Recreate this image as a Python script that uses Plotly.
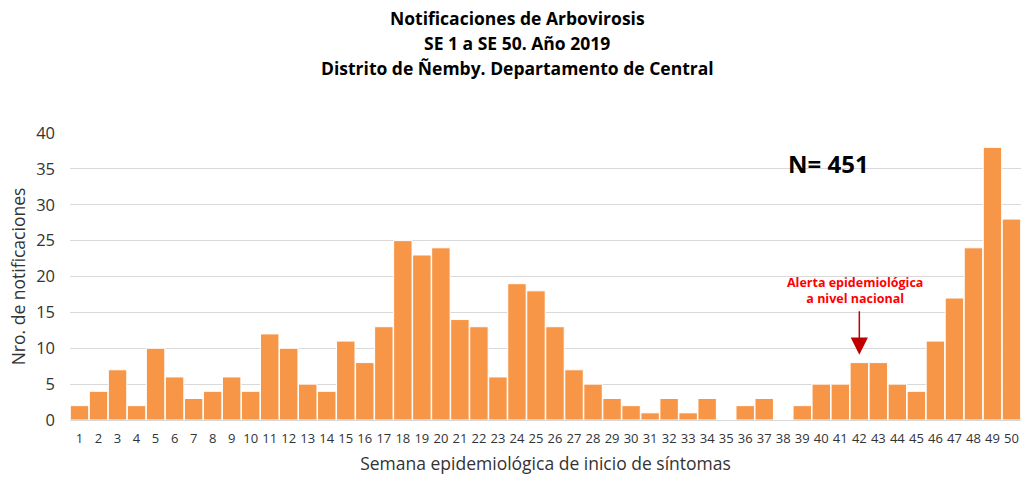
import plotly.graph_objects as go

semanas = [str(i) for i in range(1, 51)]
notificaciones = [2, 4, 7, 2, 10, 6, 3, 4, 6, 4,
                  12, 10, 5, 4, 11, 8, 13, 25, 23, 24,
                  14, 13, 6, 19, 18, 13, 7, 5, 3, 2,
                  1, 3, 1, 3, 0, 2, 3, 0, 2, 5,
                  5, 8, 8, 5, 4, 11, 17, 24, 38, 28]
y_ticks = [0, 5, 10, 15, 20, 25, 30, 35, 40]
titulo = ["Notificaciones de Arbovirosis",
          "SE 1 a SE 50. Año 2019",
          "Distrito de Ñemby. Departamento de Central"]
semana_alerta = "42"

FONT = "Open Sans"
L, T, B, H = 70, 133, 58, 478
PH = H - T - B  # plot height in px


def py(pix):
    """page pixel y -> paper y"""
    return (H - B - pix) / PH


fig = go.Figure(go.Bar(
    x=semanas, y=notificaciones,
    marker=dict(color="#F79646", line=dict(color="white", width=1)),
))

fig.update_layout(
    width=1021, height=H,
    margin=dict(l=L, r=0, t=T, b=B),
    plot_bgcolor="white", paper_bgcolor="white",
    bargap=0.03,
    showlegend=False,
    font=dict(family=FONT, color="#333333"),
)
for i, line in enumerate(titulo):
    fig.add_annotation(xref="paper", yref="paper", x=(517 - L) / 951, y=py(18 + 25 * i),
                       text=f"<b>{line}</b>", showarrow=False, xanchor="center", yanchor="middle",
                       font=dict(family=FONT, size=17.5, color="black"))

fig.update_xaxes(
    type="category", tickfont=dict(size=13, color="#333333"), ticklabelstandoff=6,
    title=dict(text="Semana epidemiológica de inicio de síntomas", font=dict(size=17.5, color="#333333"), standoff=12),
    showline=True, linecolor="#D9D9D9", ticks="", showgrid=False,
)
fig.update_yaxes(
    range=[0, 40], tickvals=y_ticks, tickfont=dict(size=16.5, color="#333333"), ticklabelstandoff=14,
    title=dict(text="Nro. de notificaciones", font=dict(size=17.5, color="#333333"), standoff=6),
    showgrid=True, gridcolor="#D9D9D9", gridwidth=1, zeroline=False, ticks="",
)

fig.add_annotation(xref="paper", x=(828 - L) / 951, y=35.8, text="<b>N= 451</b>", showarrow=False,
                   font=dict(family=FONT, size=24, color="black"), xanchor="center")
fig.add_annotation(xref="paper", x=(855 - L) / 951, y=18.0,
                   text="<b>Alerta epidemiológica<br>a nivel nacional</b>", showarrow=False,
                   font=dict(family=FONT, size=12.5, color="#FF0000"), xanchor="center")
fig.add_annotation(x=semanas.index(semana_alerta), y=9.1, text="", showarrow=True, arrowhead=2,
                   arrowsize=2.3, arrowwidth=1.5, arrowcolor="#C00000", ax=0, ay=-45)

fig.write_html("out.html", config={"displayModeBar": False},
               post_script="document.body.style.margin='0';")
